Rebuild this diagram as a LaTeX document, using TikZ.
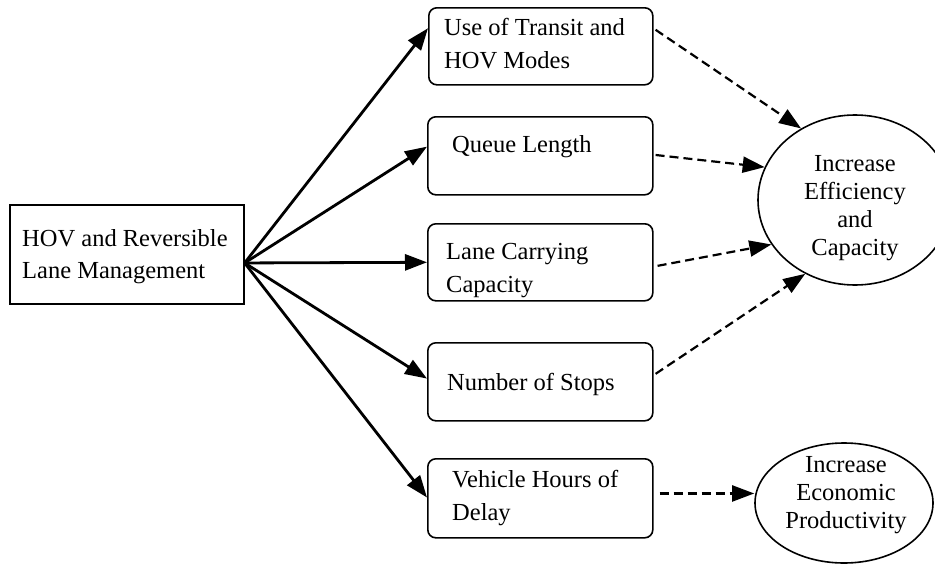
\documentclass[tikz,border=0pt]{standalone}
\usepackage{fontspec}
\setmainfont{Liberation Serif}
\usetikzlibrary{arrows.meta,shapes.geometric,calc}
\begin{document}
\begin{tikzpicture}[x=1pt,y=-1pt,
  bx/.style={draw, line width=1.6pt, rounded corners=8pt, inner sep=0pt, anchor=north west},
  sq/.style={draw, line width=1.6pt, inner sep=0pt, anchor=north west},
  el/.style={draw, ellipse, line width=1.6pt, inner sep=0pt},
  tx/.style={inner sep=0pt, anchor=base west, align=left, font=\fontsize{24.5}{33}\selectfont},
  etx/.style={inner sep=0pt, anchor=base, align=center, font=\fontsize{24.5}{27.8}\selectfont},
  sarr/.style={line width=2.8pt, -{Triangle[length=22pt,width=16pt]}},
  darr/.style={line width=2.2pt, dash pattern=on 9pt off 5pt, -{Triangle[length=22pt,width=16pt]}}
]
\useasboundingbox (0,0) rectangle (935,565);
\clip (0,0) rectangle (935,565);

% left box
\node[sq, minimum width=234pt, minimum height=99pt] (L) at (9,204) {};
\node[tx, font=\fontsize{24.5}{32}\selectfont] (tL) at (22,278) {HOV and Reversible\\Lane Management};

% middle boxes
\node[bx, minimum width=224pt, minimum height=77pt] (b1) at (428,7) {};
\node[bx, minimum width=225pt, minimum height=78pt] (b2) at (427,116) {};
\node[bx, minimum width=225pt, minimum height=77pt] (b3) at (427,223) {};
\node[bx, minimum width=225pt, minimum height=78pt] (b4) at (427,342) {};
\node[bx, minimum width=225pt, minimum height=79pt] (b5) at (427,458) {};

\node[tx] (t1) at (444,68) {Use of Transit and\\HOV Modes};
\node[tx] (t2) at (452,152) {Queue Length};
\node[tx] (t3) at (446,292) {Lane Carrying\\Capacity};
\node[tx] (t4) at (447,390) {Number of Stops};
\node[tx] (t5) at (452,520) {Vehicle Hours of\\Delay};

% ellipses
\node[el, minimum width=194pt, minimum height=170pt] (e1) at (855,200) {};
\node[etx] (te1) at (855,255) {Increase\\Efficiency\\and\\Capacity};
\node[el, minimum width=178pt, minimum height=120pt] (e2) at (844,503) {};
\node[etx] (te2) at (846,528) {Increase\\Economic\\Productivity};

% solid arrows
\coordinate (src) at ($(L.north east)!0.586!(L.south east)$);
\draw[sarr] (src) -- ($(b1.north west)!0.27!(b1.south west)$);
\draw[sarr] (src) -- ($(b2.north west)!0.385!(b2.south west)$);
\draw[sarr] (src) -- ($(b3.north west)!0.5!(b3.south west)$);
\draw[sarr] (src) -- ($(b4.north west)!0.46!(b4.south west)$);
\draw[sarr] (src) -- ($(b5.north west)!0.49!(b5.south west)$);

% dashed arrows
\draw[darr] ($(b1.north east)!0.29!(b1.south east)+(2,0)$) -- (e1.127);
\draw[darr] ($(b2.north east)!0.49!(b2.south east)+(2,0)$) -- (e1.160);
\draw[darr] ($(b3.north east)!0.545!(b3.south east)+(4,0)$) -- (e1.208);
\draw[darr] ($(b4.north east)!0.4!(b4.south east)+(2,0)$) -- (e1.236);
\coordinate (d5) at ($(b5.north east)!0.44!(b5.south east)+(6,0)$);
\draw[darr] (d5) -- (d5 -| e2.west);
\end{tikzpicture}
\end{document}
